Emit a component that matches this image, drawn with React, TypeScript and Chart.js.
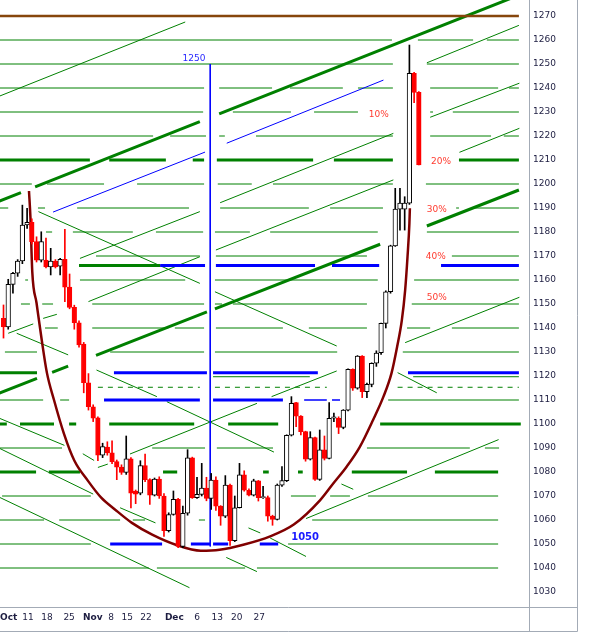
import React, { useEffect, useRef } from 'react';
import { Chart, registerables } from 'chart.js';

Chart.register(...registerables);

// ---------- Candles (index = trading day) ----------
const OPEN = [
  1144.0, 1140.5, 1158.2, 1162.8, 1167.9, 1182.9, 1184.0, 1176.0, 1168.3, 1168.3,
  1165.5, 1167.9, 1165.8, 1168.6, 1157.0, 1148.6, 1142.2, 1133.3, 1117.2, 1107.2,
  1102.6, 1087.0, 1090.4, 1088.0, 1084.3, 1082.0, 1079.8, 1085.5, 1072.0, 1071.2,
  1082.7, 1076.8, 1070.3, 1077.0, 1070.0, 1055.6, 1062.3, 1068.6, 1049.0, 1062.8,
  1085.9, 1069.3, 1070.7, 1073.3, 1069.0, 1076.6, 1065.8, 1061.6, 1074.5, 1051.4,
  1065.1, 1078.8, 1072.4, 1070.3, 1076.3, 1069.3, 1069.3, 1061.6, 1060.2, 1074.5,
  1076.4, 1095.3, 1108.9, 1103.3, 1096.8, 1085.3, 1094.3, 1076.9, 1089.2, 1085.7,
  1102.4, 1102.4, 1098.6, 1105.8, 1122.8, 1114.9, 1128.3, 1113.5, 1116.5, 1125.3,
  1129.7, 1141.9, 1155.1, 1174.2, 1189.5, 1189.5, 1192.0, 1246.1, 1238.2,
];
const HIGH = [
  1149.6, 1160.3, 1163.2, 1168.5, 1191.2, 1189.9, 1185.5, 1178.0, 1180.1, 1177.5,
  1173.2, 1168.5, 1169.0, 1181.1, 1162.5, 1149.5, 1143.0, 1134.0, 1121.0, 1108.0,
  1103.0, 1092.0, 1092.6, 1093.0, 1085.0, 1083.0, 1095.0, 1086.0, 1072.5, 1084.7,
  1087.5, 1077.2, 1077.5, 1078.0, 1071.0, 1063.0, 1072.1, 1069.0, 1065.8, 1089.3,
  1086.2, 1077.8, 1083.6, 1077.8, 1079.4, 1078.0, 1066.0, 1078.5, 1075.0, 1070.0,
  1083.6, 1080.5, 1073.0, 1077.0, 1076.5, 1074.0, 1070.0, 1062.0, 1075.0, 1082.3,
  1095.5, 1111.4, 1109.0, 1103.5, 1097.0, 1096.8, 1094.5, 1097.5, 1095.0, 1108.9,
  1104.5, 1103.0, 1106.0, 1123.0, 1123.0, 1128.5, 1128.5, 1117.0, 1125.5, 1130.5,
  1142.0, 1155.5, 1174.5, 1198.2, 1198.2, 1194.7, 1257.9, 1246.5, 1238.5,
];
const LOW = [
  1135.8, 1139.5, 1154.5, 1161.5, 1166.8, 1181.5, 1175.0, 1167.5, 1167.5, 1165.0,
  1162.1, 1165.0, 1162.1, 1151.0, 1148.0, 1139.5, 1132.0, 1113.0, 1105.8, 1101.0,
  1084.7, 1086.0, 1087.0, 1083.5, 1076.8, 1079.0, 1079.0, 1065.0, 1066.8, 1070.5,
  1076.0, 1066.5, 1070.0, 1069.0, 1053.2, 1055.0, 1062.0, 1048.5, 1048.5, 1062.0,
  1069.0, 1069.0, 1070.0, 1068.0, 1064.4, 1064.0, 1057.8, 1061.0, 1049.4, 1051.0,
  1065.0, 1072.0, 1070.0, 1070.0, 1067.9, 1069.0, 1059.5, 1057.8, 1060.0, 1074.0,
  1076.0, 1095.0, 1098.9, 1095.4, 1084.5, 1085.0, 1076.5, 1076.5, 1085.0, 1085.5,
  1101.0, 1096.0, 1098.0, 1105.5, 1114.0, 1114.5, 1111.0, 1111.0, 1115.5, 1124.0,
  1129.0, 1140.0, 1154.5, 1174.0, 1180.8, 1180.8, 1191.5, 1233.9, 1207.9,
];
const CLOSE = [
  1140.5, 1158.2, 1162.8, 1167.9, 1182.9, 1184.0, 1176.0, 1168.3, 1176.0, 1165.5,
  1167.9, 1165.5, 1168.6, 1157.0, 1148.6, 1142.2, 1132.9, 1117.2, 1107.2, 1102.4,
  1087.0, 1090.6, 1088.0, 1084.3, 1082.0, 1079.8, 1085.5, 1071.2, 1070.8, 1082.7,
  1076.8, 1070.3, 1077.0, 1070.0, 1055.6, 1062.3, 1068.6, 1049.0, 1062.8, 1085.9,
  1069.3, 1070.7, 1073.3, 1069.0, 1076.6, 1065.8, 1061.6, 1074.5, 1051.4, 1065.1,
  1078.8, 1072.4, 1070.3, 1076.3, 1069.3, 1069.8, 1061.6, 1060.2, 1074.5, 1076.4,
  1095.3, 1108.6, 1103.3, 1096.8, 1085.3, 1094.3, 1076.9, 1089.2, 1085.7, 1102.4,
  1103.0, 1098.6, 1105.8, 1122.8, 1114.9, 1128.3, 1113.5, 1116.5, 1125.3, 1129.5,
  1141.9, 1155.1, 1174.2, 1189.5, 1192.0, 1192.0, 1246.1, 1238.2, 1207.9,
];

// ---------- Axis ticks ----------
const X_TICK_POS = [1.1, 5.2, 9.2, 13.9, 18.9, 22.8, 26.2, 30.2, 36.2, 41.0, 45.3, 49.4, 54.2];
const X_TICK_LABELS = ['Oct', '11', '18', '25', 'Nov', '8', '15', '22', 'Dec', '6', '13', '20', '27'];
const X_TICK_MONTH = [true, false, false, false, true, false, false, false, true, false, false, false, false];
const Y_TICKS = [
  1030, 1040, 1050, 1060, 1070, 1080, 1090, 1100, 1110, 1120, 1130, 1140, 1150,
  1160, 1170, 1180, 1190, 1200, 1210, 1220, 1230, 1240, 1250, 1260, 1270,
];

// ---------- Cup curve (index, price) ----------
const CUP_X = [5.4, 5.7, 6.1, 7.0, 8.1, 9.2, 10.7, 12.8, 15.0, 17.9, 20.7, 23.6, 27.2, 31.5, 36.5,
  41.8, 45.8, 50.8, 56.5, 61.5, 67.1, 69.9, 72.7, 75.5, 78.3, 80.5, 82.2, 83.4, 84.4, 85.1,
  85.6, 86.0, 86.1];
const CUP_Y = [1197.1, 1186.3, 1163.3, 1150.4, 1135.0, 1121.3, 1110.0, 1096.0, 1084.8, 1076.3,
  1069.3, 1064.4, 1058.8, 1053.9, 1049.7, 1047.2, 1047.6, 1049.7, 1053.2, 1058.1, 1068.3,
  1075.3, 1082.2, 1090.5, 1101.7, 1111.4, 1121.1, 1132.2, 1143.3, 1155.8, 1169.7, 1183.6,
  1189.9];

// ---------- Horizontal levels: [price, [from, to, from, to, ...]] ----------
const TOP_LEVEL: [number, number[]][] = [[1270, [-1, 109.2]]];
const H_GREEN_THIN: [number, number[]][] = [
  [1260, [-1, 82.3, 87.8, 99.5, 102.4, 109.2]],
  [1250, [-1, 82.5, 89.7, 109.2]],
  [1240, [-1, 42.5, 45.7, 56.9, 60.7, 71.9, 75.1, 82.5, 90.4, 104.8, 107.1, 109.2]],
  [1230, [-1, 42.3, 48.6, 60.9, 65.8, 75.1, 90.4, 91.0, 95.2, 109.2]],
  [1220, [-1, 31.7, 35.3, 42.9, 45.7, 46.9, 53.5, 82.5, 90.4, 103.3, 106.0, 109.2]],
  [1200, [-1, 6.0, 9.2, 21.3, 28.3, 42.5, 45.4, 52.6, 57.1, 82.5, 89.5, 109.2]],
  [1190, [-1, 1.0, 7.3, 8.8, 15.6, 39.3, 45.9, 64.7, 69.2, 80.4, 95.9, 96.5, 99.9, 109.2]],
  [1180, [9.0, 10.3, 14.7, 27.4, 32.3, 42.3, 44.8, 52.2, 56.5, 79.3, 89.7, 109.2]],
  [1170, [19.6, 41.6, 45.0, 77.0, 95.0, 109.2]],
  [1160, [4.6, 5.2, 16.2, 38.5, 44.8, 79.3, 87.0, 109.2]],
  [1150, [3.7, 5.6, 8.2, 10.5, 18.8, 42.5, 44.8, 46.3, 48.6, 77.0, 86.5, 109.2]],
  [1140, [8.8, 11.5, 18.8, 34.9, 36.3, 42.5, 45.0, 59.2, 64.7, 77.0, 85.5, 90.4, 95.0, 109.2]],
  [1130, [0.3, 7.1, 22.6, 42.5, 44.8, 70.7, 84.6, 109.2]],
  [1119.7, [44.4, 64.9, 86.8, 109.2]],
  [1110, [-1, 8.4, 12.0, 13.9, 81.5, 109.2]],
  [1090, [-1, 12.4, 31.5, 42.7, 45.2, 57.1, 77.0, 98.8, 102.0, 105.0]],
  [1070, [-0.3, 18.5, 60.9, 66.2, 69.2, 73.4, 77.2, 104.8]],
  [1060, [-1, 8.6, 11.8, 24.7, 27.4, 30.0, 41.4, 42.7, 65.4, 104.8]],
  [1050, [-1, 18.5, 60.3, 104.8]],
  [1040, [-1, 30.8, 32.5, 51.2, 53.7, 104.8]],
];
const H_GREEN_THICK: [number, number[]][] = [
  [1210, [-1, 18.3, 22.4, 34.4, 40.1, 42.5, 45.2, 65.6, 70.0, 82.5, 96.5, 109.2]],
  [1166, [16.0, 33.2]],
  [1121.4, [-1, 7.1]],
  [1100, [-1, 0.7, 3.5, 10.7, 13.9, 15.4, 22.4, 40.4, 47.6, 58.2, 79.8, 109.6]],
  [1080, [-1, 6.9, 9.6, 16.2, 33.8, 36.8, 55.0, 56.2, 62.4, 63.4, 73.8, 85.5, 91.4, 104.8]],
];
const H_GREEN_DASHED: [number, number[]][] = [
  [1115.3, [20.0, 41.6, 44.8, 68.5, 83.5, 109.2]],
];
const H_BLUE_THICK: [number, number[]][] = [
  [1166, [33.2, 42.7, 45.0, 66.0, 69.6, 79.6, 92.7, 109.2]],
  [1121.4, [23.4, 43.1, 44.4, 66.6, 85.7, 109.2]],
  [1110, [21.3, 41.6, 44.4, 59.2]],
  [1050, [22.6, 33.6, 39.7, 43.8, 44.4, 47.6, 54.3, 58.2]],
];
const H_BLUE_THIN: [number, number[]][] = [
  [1110, [63.7, 68.5, 69.6, 71.3]],
];

// ---------- Sloped lines: [x1, price1, x2, price2] ----------
const DIAG_GREEN_THICK = [
  [-1, 1192.8, 3.7, 1196.4], [6.7, 1198.8, 41.6, 1226.0], [45.7, 1229.2, 111, 1280.1],
  [-1, 1112.8, 7.1, 1119.0], [10.3, 1121.5, 13.7, 1124.1], [19.6, 1128.6, 43.1, 1146.7],
  [44.8, 1148.0, 79.8, 1174.9], [89.7, 1182.5, 109.2, 1197.5],
];
const DIAG_GREEN_THIN = [
  [-1, 1236.5, 38.5, 1267.5],
  [89.7, 1250.5, 109.2, 1266.1],
  [16.2, 1169.0, 41.6, 1188.5], [45.9, 1192.2, 82.6, 1221.1], [90.4, 1227.8, 109.3, 1242.0],
  [18.0, 1151.0, 41.6, 1169.7], [45.0, 1172.5, 82.6, 1201.7], [96.6, 1213.2, 109.3, 1223.2],
  [20.0, 1081.9, 22.1, 1083.3], [26.8, 1087.5, 53.7, 1108.6], [56.8, 1111.4, 70.6, 1122.1],
  [85.1, 1133.9, 109.3, 1152.8],
  [64.1, 1060.6, 104.9, 1093.5],
  [1.0, 1137.8, 6.3, 1141.7], [8.4, 1144.0, 11.3, 1145.7],
  [7.4, 1188.5, 41.6, 1158.6], [44.8, 1155.1, 70.6, 1132.5], [83.5, 1121.4, 91.8, 1113.0],
  [2.8, 1137.8, 13.7, 1128.8], [19.7, 1122.5, 32.5, 1111.4], [34.6, 1109.3, 57.3, 1088.3],
  [-1, 1102.5, 12.9, 1091.1], [16.8, 1087.6, 19.2, 1084.8],
  [-1, 1090.0, 19.0, 1070.8],
  [-1, 1069.6, 39.4, 1031.8],
  [24.7, 1065.1, 32.2, 1058.8],
  [51.9, 1056.7, 54.4, 1054.6], [56.5, 1052.5, 64.1, 1044.8],
  [47.2, 1044.4, 53.7, 1038.5],
  [71.6, 1075.0, 74.1, 1072.8],
];
const DIAG_BLUE = [
  [10.5, 1188.3, 42.7, 1213.3], [47.3, 1217.0, 80.5, 1243.3],
  [43.8, 1250, 43.8, 1049],
];

// ---------- Text notes ----------
const NOTE_TEXT = ['1250', '1050', '10%', '20%', '30%', '40%', '50%'];
const NOTE_X = [42.8, 63.9, 79.5, 92.7, 91.8, 91.6, 91.8];
const NOTE_Y = [1252.1, 1052.9, 1229.0, 1209.2, 1189.2, 1169.6, 1152.5];

// ---------- helpers ----------
function levelsToSegs(levels: [number, number[]][]): number[][] {
  const out: number[][] = [];
  levels.forEach(([v, xs]) => {
    for (let k = 0; k + 1 < xs.length; k += 2) out.push([xs[k], v, xs[k + 1], v]);
  });
  return out;
}
function segsToPoints(segs: number[][]) {
  const pts: any[] = [];
  segs.forEach(([x1, y1, x2, y2]) => {
    pts.push({ x: x1, y: y1 }, { x: x2, y: y2 }, { x: x2, y: null });
  });
  return pts;
}
function lineDs(segs: number[][], color: string, width: number, order: number, dash?: number[]) {
  return {
    type: 'line' as const,
    data: segsToPoints(segs),
    borderColor: color,
    borderWidth: width,
    borderDash: dash || [],
    pointRadius: 0,
    pointHoverRadius: 0,
    fill: false,
    spanGaps: false,
    tension: 0,
    order,
  };
}

const FONT = '"DejaVu Sans", Verdana, sans-serif';

const framePlugin = {
  id: 'frame',
  afterDraw(chart: any) {
    const { ctx, chartArea } = chart;
    const right = chart.width - 14;
    const band = chartArea.bottom + 24;
    ctx.save();
    ctx.strokeStyle = '#a3abb6';
    ctx.lineWidth = 1;
    ctx.beginPath();
    ctx.moveTo(0, chartArea.bottom + 0.5);
    ctx.lineTo(right + 0.5, chartArea.bottom + 0.5);
    ctx.moveTo(0, band + 0.5);
    ctx.lineTo(right + 0.5, band + 0.5);
    ctx.moveTo(right + 0.5, 0);
    ctx.lineTo(right + 0.5, band + 0.5);
    ctx.moveTo(chartArea.right + 0.5, 0);
    ctx.lineTo(chartArea.right + 0.5, band + 0.5);
    ctx.stroke();
    ctx.restore();
  },
};

const notesPlugin = {
  id: 'notes',
  afterDatasetsDraw(chart: any) {
    const { ctx } = chart;
    const xs = chart.scales.x;
    const ys = chart.scales.y;
    ctx.save();
    NOTE_TEXT.forEach((t, k) => {
      const px = xs.getPixelForValue(NOTE_X[k]);
      const py = ys.getPixelForValue(NOTE_Y[k]);
      ctx.font = k === 1 ? `bold 10px ${FONT}` : `9px ${FONT}`;
      ctx.fillStyle = k === 0 ? '#2a2aff' : k === 1 ? '#1a1aff' : '#ff3b2f';
      ctx.textAlign = k === 0 ? 'right' : 'center';
      ctx.textBaseline = 'middle';
      ctx.fillText(t, px, py);
    });
    ctx.restore();
  },
};

export default function App() {
  const ref = useRef<HTMLCanvasElement>(null);

  useEffect(() => {
    const canvas = ref.current;
    if (!canvas) return;
    const up = CLOSE.map((c, i) => c >= OPEN[i]);
    const bodies = CLOSE.map((c, i) => ({ x: i, y: [OPEN[i], c] }));
    const wicks = CLOSE.map((_, i) => ({ x: i, y: [LOW[i], HIGH[i]] }));
    const cup = CUP_X.map((x, i) => ({ x, y: CUP_Y[i] }));

    const datasets: any[] = [
      {
        type: 'bar',
        data: bodies,
        backgroundColor: up.map((u) => (u ? '#ffffff' : '#ff0000')),
        borderColor: up.map((u) => (u ? '#000000' : '#ff0000')),
        borderWidth: 1,
        borderSkipped: false,
        barThickness: 4.6,
        minBarLength: 1,
        grouped: false,
        order: 0,
      },
      {
        type: 'bar',
        data: wicks,
        backgroundColor: up.map((u) => (u ? '#000000' : '#ff0000')),
        borderWidth: 0,
        barThickness: 1,
        grouped: false,
        order: 1,
      },
      {
        type: 'line',
        data: cup,
        borderColor: '#800000',
        borderWidth: 2.5,
        pointRadius: 0,
        fill: false,
        cubicInterpolationMode: 'monotone',
        order: 2,
      },
      lineDs(DIAG_BLUE, '#0000ff', 1, 3),
      lineDs(levelsToSegs(H_BLUE_THICK), '#0000ff', 3, 3),
      lineDs(levelsToSegs(H_BLUE_THIN), '#0000ff', 1.5, 3),
      lineDs(levelsToSegs(TOP_LEVEL), '#86460c', 2.5, 3),
      lineDs(DIAG_GREEN_THICK, '#008000', 3, 4),
      lineDs(levelsToSegs(H_GREEN_THICK), '#008000', 3, 4),
      lineDs(DIAG_GREEN_THIN, '#008000', 1, 5),
      lineDs(levelsToSegs(H_GREEN_THIN), '#008000', 1, 5),
      lineDs(levelsToSegs(H_GREEN_DASHED), '#008000', 1, 5, [5, 5]),
    ];

    const chart = new Chart(canvas, {
      type: 'bar',
      data: { datasets },
      plugins: [framePlugin, notesPlugin],
      options: {
        responsive: false,
        animation: false,
        events: [],
        layout: { padding: 0, autoPadding: false },
        plugins: {
          legend: { display: false },
          tooltip: { enabled: false },
          title: { display: false },
        },
        scales: {
          x: {
            type: 'linear',
            position: 'bottom',
            min: -0.742,
            max: 111.34,
            offset: false,
            grid: { display: false, drawTicks: false },
            border: { display: false },
            ticks: {
              autoSkip: false,
              maxRotation: 0,
              minRotation: 0,
              padding: 5,
              color: '#1c1c40',
              font: (c: any) => ({
                family: FONT,
                size: 9,
                weight: X_TICK_MONTH[c.index] ? 'bold' : 'normal',
              }),
              callback: (_v: any, i: number) => X_TICK_LABELS[i],
            },
            afterBuildTicks: (s: any) => {
              s.ticks = X_TICK_POS.map((v) => ({ value: v }));
            },
            afterFit: (s: any) => {
              s.height = 35;
              s.paddingLeft = 0;
              s.paddingRight = 0;
            },
          },
          y: {
            type: 'linear',
            position: 'right',
            min: 1023.75,
            max: 1276.667,
            beginAtZero: false,
            grid: { display: false, drawTicks: false },
            border: { display: false },
            ticks: {
              autoSkip: false,
              padding: 4,
              color: '#1c1c40',
              font: { family: FONT, size: 9 },
              callback: (v: any) => String(v),
            },
            afterBuildTicks: (s: any) => {
              s.ticks = Y_TICKS.map((v) => ({ value: v }));
            },
            afterFit: (s: any) => {
              s.width = 62;
              s.paddingTop = 0;
              s.paddingBottom = 0;
            },
          },
        },
      } as any,
    });
    return () => chart.destroy();
  }, []);

  return (
    <div style={{ position: 'absolute', left: 0, top: 0, width: 591, height: 642, background: '#ffffff' }}>
      <canvas ref={ref} width={591} height={642} style={{ display: 'block' }} />
    </div>
  );
}
